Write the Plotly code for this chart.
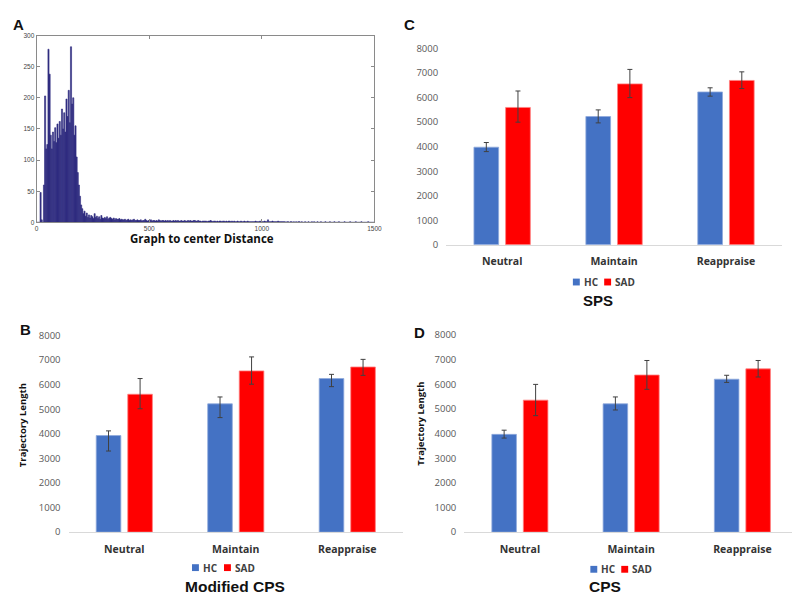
import numpy as np
import plotly.graph_objects as go

# ---- panel A: histogram of graph-to-center distance ----
bin_width = 5
# counts for bins 0-300 (width 5)
hist_head = [0, 0, 0, 48, 4, 0, 60, 203, 118, 125,
             278, 238, 140, 118, 145, 130, 152, 128, 158, 135,
             162, 140, 182, 150, 176, 145, 198, 170, 212, 160,
             282, 190, 200, 140, 155, 105, 80, 60, 42, 28,
             22, 14, 18, 10, 15, 8, 12, 7, 11, 9,
             6, 14, 8, 10, 6, 9, 5, 11, 7, 6]
# counts for bins 300-1500 (width 5)
hist_tail = [8, 6, 9, 5, 7, 8, 6, 5, 7, 4, 6, 5, 5, 6, 4, 5, 4, 4, 5, 3,
             4, 5, 3, 4, 3, 4, 5, 3, 3, 4, 3, 3, 4, 2, 3, 3, 5, 3, 2, 3,
             3, 4, 2, 3, 3, 2, 3, 2, 4, 3, 2, 3, 3, 2, 3, 2, 3, 2, 3, 2,
             2, 3, 2, 3, 2, 3, 2, 2, 3, 2, 2, 3, 2, 2, 3, 2, 3, 2, 2, 3,
             3, 2, 2, 3, 2, 2, 1, 2, 2, 2, 2, 1, 2, 2, 3, 2, 1, 2, 2, 1,
             2, 1, 2, 2, 1, 2, 2, 1, 2, 1, 2, 2, 1, 2, 1, 2, 1, 1, 2, 1,
             1, 2, 1, 1, 2, 1, 1, 2, 1, 1, 1, 1, 1, 1, 2, 1, 1, 1, 2, 1,
             1, 1, 2, 1, 1, 4, 1, 1, 1, 2, 1, 1, 1, 1, 2, 1, 1, 1, 1, 1,
             1, 0, 1, 1, 0, 1, 1, 0, 1, 0, 1, 0, 1, 1, 0, 1, 0, 0, 1, 0,
             0, 1, 0, 0, 1, 0, 1, 0, 0, 1, 0, 0, 1, 0, 0, 0, 1, 0, 0, 0,
             1, 0, 0, 0, 1, 0, 0, 0, 1, 0, 0, 0, 0, 1, 0, 0, 0, 0, 1, 0,
             0, 0, 0, 1, 0, 0, 0, 0, 1, 0, 0, 0, 0, 0, 1, 0, 0, 0, 0, 0]
hist_counts = hist_head + hist_tail
bin_centers = np.arange(len(hist_counts)) * bin_width + bin_width / 2

# ---- panels B, C, D: trajectory length ----
categories = ['Neutral', 'Maintain', 'Reappraise']

sps_hc = [3980, 5230, 6230]
sps_hc_up = [190, 270, 170]
sps_hc_down = [180, 260, 170]
sps_sad = [5600, 6560, 6700]
sps_sad_up = [670, 590, 350]
sps_sad_down = [600, 560, 330]

mcps_hc = [3930, 5220, 6250]
mcps_hc_up = [190, 280, 170]
mcps_hc_down = [630, 560, 330]
mcps_sad = [5610, 6560, 6720]
mcps_sad_up = [640, 570, 310]
mcps_sad_down = [590, 540, 340]

cps_hc = [3970, 5210, 6210]
cps_hc_up = [170, 280, 160]
cps_hc_down = [150, 250, 130]
cps_sad = [5360, 6380, 6630]
cps_sad_up = [640, 590, 340]
cps_sad_down = [630, 580, 330]

W, H = 800, 594
BLUE = '#4472C4'
RED = '#FF0000'
TXT = 'Open Sans'
ARIAL = 'Liberation Sans'


def px(x):
    return x / W


def py(y):
    return 1 - y / H


fig = go.Figure()

fig.add_trace(go.Bar(x=bin_centers, y=hist_counts, width=bin_width,
                     marker=dict(color='#2f2c80', line=dict(color='#2f2c80', width=0.6)),
                     xaxis='x', yaxis='y', showlegend=False))


def add_panel(n, hc, hc_up, hc_down, sad, sad_up, sad_down):
    ax = dict(xaxis='x%d' % n, yaxis='y%d' % n)
    err = dict(color='#404040', thickness=1, width=2.5)
    fig.add_trace(go.Bar(x=categories, y=hc, name='HC',
                         marker=dict(color=BLUE, line=dict(color='#8faadc', width=0.8)),
                         error_y=dict(type='data', symmetric=False, array=hc_up, arrayminus=hc_down, **err),
                         showlegend=False, **ax))
    fig.add_trace(go.Bar(x=categories, y=sad, name='SAD',
                         marker=dict(color=RED, line=dict(color='#ff8080', width=0.8)),
                         error_y=dict(type='data', symmetric=False, array=sad_up, arrayminus=sad_down, **err),
                         showlegend=False, **ax))


add_panel(2, sps_hc, sps_hc_up, sps_hc_down, sps_sad, sps_sad_up, sps_sad_down)
add_panel(3, mcps_hc, mcps_hc_up, mcps_hc_down, mcps_sad, mcps_sad_up, mcps_sad_down)
add_panel(4, cps_hc, cps_hc_up, cps_hc_down, cps_sad, cps_sad_up, cps_sad_down)

hist_ax = dict(showline=True, linecolor='#8a8a8a', linewidth=1, mirror='ticks',
               ticks='inside', ticklen=3, tickcolor='#8a8a8a', showgrid=False, zeroline=False,
               tickfont=dict(family=ARIAL, size=6.5, color='#444'))
layout = dict(
    width=W, height=H, margin=dict(l=0, r=0, t=0, b=0),
    paper_bgcolor='white', plot_bgcolor='white',
    barmode='group', bargap=0.434, bargroupgap=0.22,
    xaxis=dict(domain=[px(27), px(369)], range=[0, 1500], tickvals=[0, 500, 1000, 1500],
               anchor='y', **hist_ax),
    yaxis=dict(domain=[py(212), py(21)], range=[0, 300], tickvals=list(range(0, 301, 50)),
               anchor='x', **hist_ax),
)

bar_panels = {2: ([441.7, 781.7], [235, 34.3]),
              3: ([59.3, 398], [528.7, 327.7]),
              4: ([460, 798], [528.7, 327.3])}
for n, (xd, yd) in bar_panels.items():
    layout['xaxis%d' % n] = dict(domain=[px(xd[0]), px(xd[1])], anchor='y%d' % n, type='category',
                                 showline=True, linecolor='#d9d9d9', linewidth=1, ticks='',
                                 showgrid=False, zeroline=False, ticklabelstandoff=7,
                                 tickfont=dict(family=TXT, size=10.5, color='#333', weight='bold'))
    layout['yaxis%d' % n] = dict(domain=[py(yd[0]), py(yd[1])], anchor='x%d' % n, range=[0, 8000],
                                 tickvals=list(range(0, 8001, 1000)), showline=False, ticks='',
                                 showgrid=False, zeroline=False, ticklabelstandoff=7,
                                 tickfont=dict(family=TXT, size=9.5, color='#595959'))

fig.update_layout(**layout)

ann = []


def text(x, y, s, size, family=TXT, color='#111', bold=False, angle=0, xanchor='center'):
    ann.append(dict(x=px(x), y=py(y), xref='paper', yref='paper', text=('<b>%s</b>' % s) if bold else s,
                    showarrow=False, xanchor=xanchor, yanchor='middle', textangle=angle,
                    font=dict(family=family, size=size, color=color)))


# panel letters
text(8.7, 9.5, 'A', 15, ARIAL, bold=True)
text(405, 9.5, 'C', 15, ARIAL, bold=True)
text(16, 322, 'B', 15, ARIAL, bold=True)
text(414.7, 324.7, 'D', 15, ARIAL, bold=True)

# axis / panel titles
text(194, 229, 'Graph to center Distance', 11.5, TXT, bold=True)
text(595.7, 291.7, 'SPS', 15, ARIAL, bold=True)
text(228, 584.5, 'Modified CPS', 15.5, ARIAL, bold=True)
text(602.7, 584.5, 'CPS', 15.5, ARIAL, bold=True)
text(12.5, 419, 'Trajectory Length', 9.5, TXT, bold=True, angle=-90)
text(415.5, 417.5, 'Trajectory Length', 9.5, TXT, bold=True, angle=-90)

# legends
shapes = []
legends = [(273, [(570, 'HC', BLUE), (601.7, 'SAD', RED)]),
           (565, [(184.3, 'HC', BLUE), (216.7, 'SAD', RED)]),
           (566.7, [(587.7, 'HC', BLUE), (619, 'SAD', RED)])]
for ly, items in legends:
    for lx, name, col in items:
        shapes.append(dict(type='rect', xref='paper', yref='paper', x0=px(lx), x1=px(lx + 7),
                           y0=py(ly + 3.5), y1=py(ly - 3.5), fillcolor=col, line=dict(width=0)))
        text(lx + 9, ly, name, 10, TXT, color='#404040', bold=True, xanchor='left')

fig.update_layout(annotations=ann, shapes=shapes)
fig.write_html("out.html")
